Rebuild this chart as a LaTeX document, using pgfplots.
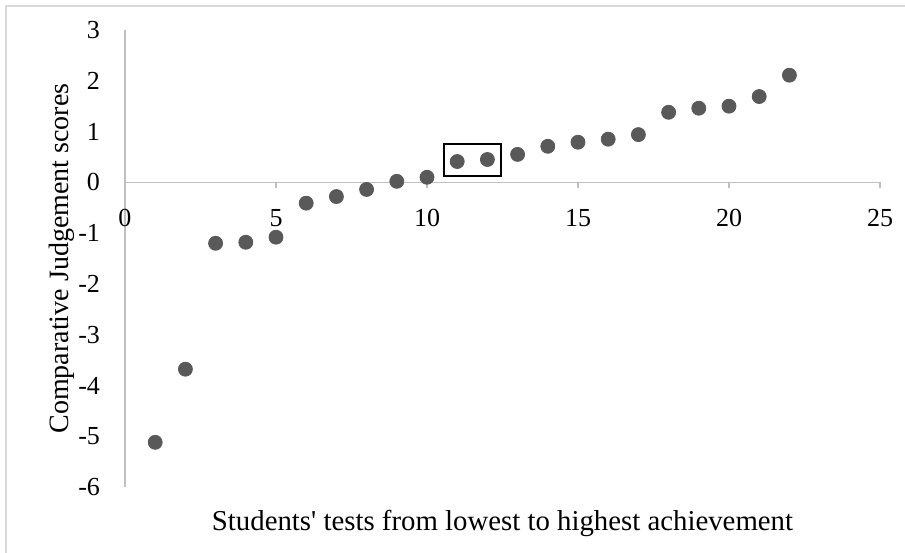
\documentclass[border=0pt]{standalone}
\usepackage{pgfplots}
\pgfplotsset{compat=1.18}
\usepackage{fontspec}
\setmainfont{Liberation Serif}[Ligatures=TeXOff]
\definecolor{axgray}{RGB}{191,191,191}
\definecolor{markgray}{RGB}{89,89,89}
\definecolor{framegray}{RGB}{217,217,217}
\begin{document}
\begin{tikzpicture}
\begin{axis}[
  at={(0,0)}, anchor=south west, scale only axis,
  width=377.5pt, height=228.5pt,
  xmin=0, xmax=25, ymin=-6, ymax=3,
  axis x line=middle, axis y line=left,
  axis line style={-, draw=axgray, line width=0.75pt},
  xtick={0,5,...,25}, ytick={-6,-5,...,3},
  x tick style={draw=axgray, line width=0.75pt},
  y tick style={draw=none},
  major tick length=3pt,
  tick align=outside,
  xticklabel style={anchor=north, yshift=-7pt},
  yticklabel style={anchor=east, xshift=-6pt},
  hide obscured x ticks=false, hide obscured y ticks=false,
  /pgf/number format/assume math mode=true,
  tick label style={font=\fontsize{13}{15}\selectfont},
  clip=false,
]
\addplot[only marks, mark=*, mark size=3.5pt, mark options={draw=markgray, fill=markgray}]
coordinates {
(1,-5.12) (2,-3.68) (3,-1.20) (4,-1.18) (5,-1.08) (6,-0.41) (7,-0.28) (8,-0.14)
(9,0.02) (10,0.10) (11,0.41) (12,0.45) (13,0.55) (14,0.71) (15,0.79) (16,0.85)
(17,0.94) (18,1.38) (19,1.46) (20,1.50) (21,1.69) (22,2.11)
};
\draw[black, line width=1pt] (axis cs:10.56,0.12) rectangle (axis cs:12.45,0.75);
\node[rotate=90, yshift=31.5pt, font=\fontsize{14}{16}\selectfont] at (rel axis cs:0,0.5) {Comparative Judgement scores};
\node[yshift=-18pt, font=\fontsize{14.4}{16}\selectfont] at (rel axis cs:0.5,0) {Students' tests from lowest to highest achievement};
\end{axis}
\draw[framegray, line width=0.75pt] (-59.5pt,240.5pt) rectangle (395pt,-40pt);
\pgfresetboundingbox
\useasboundingbox (-62.5pt,-32.5pt) rectangle (390pt,243.5pt);
\end{tikzpicture}
\end{document}
